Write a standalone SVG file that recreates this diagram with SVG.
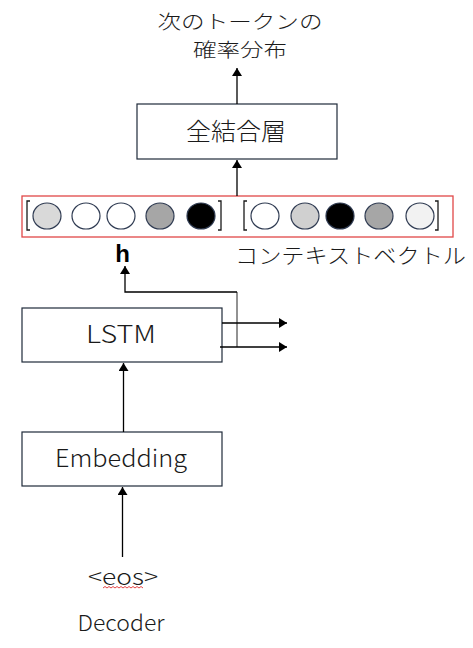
<svg xmlns="http://www.w3.org/2000/svg" width="473" height="648" viewBox="0 0 473 648">
<defs>
<marker id="ah" markerWidth="8" markerHeight="10" refX="8" refY="5" orient="auto" markerUnits="userSpaceOnUse">
<path d="M0,0 L8,5 L0,10 Z" fill="#000"/>
</marker>
<style>
.box{fill:#fff;stroke:#1f2a3a;stroke-width:1.2}
.t{font-family:"Noto Sans CJK JP","Noto Sans",sans-serif;fill:#1a1a1a;font-weight:300}
.c{stroke:#2f3b52;stroke-width:1.2}
.ln{fill:none;stroke:#000;stroke-width:1.3}
.br{fill:none;stroke:#1a1a1a;stroke-width:1.3}
</style>
</defs>
<rect width="473" height="648" fill="#fff"/>

<g id="output-label">
<text class="t" x="240" y="29" font-size="19" text-anchor="middle" textLength="165" lengthAdjust="spacingAndGlyphs">次のトークンの</text>
<text class="t" x="240" y="57" font-size="19" text-anchor="middle" textLength="94" lengthAdjust="spacingAndGlyphs">確率分布</text>
</g>

<g id="fc">
<rect class="box" x="137" y="104" width="200" height="55"/>
<text class="t" x="236" y="140" font-size="24" text-anchor="middle" textLength="100" lengthAdjust="spacingAndGlyphs">全結合層</text>
</g>

<g id="context-vector">
<rect x="22" y="196" width="431" height="41" fill="#fff" stroke="#e04848" stroke-width="1.3"/>
<path class="br" d="M30,201 H27 V230 H30"/>
<path class="br" d="M218,201 H221 V230 H218"/>
<path class="br" d="M247,201 H244 V230 H247"/>
<path class="br" d="M435,201 H438 V230 H435"/>
<ellipse class="c" cx="47" cy="216" rx="14" ry="13" fill="#d9d9d9"/>
<ellipse class="c" cx="86" cy="216" rx="14" ry="13" fill="#fff"/>
<ellipse class="c" cx="121" cy="216" rx="14" ry="13" fill="#fff"/>
<ellipse class="c" cx="160" cy="216" rx="14" ry="13" fill="#a6a6a6"/>
<ellipse class="c" cx="201" cy="216" rx="14" ry="13" fill="#000"/>
<ellipse class="c" cx="265" cy="216" rx="14" ry="13" fill="#fff"/>
<ellipse class="c" cx="305" cy="216" rx="14" ry="13" fill="#d0d0d0"/>
<ellipse class="c" cx="340" cy="216" rx="14" ry="13" fill="#000"/>
<ellipse class="c" cx="379" cy="216" rx="14" ry="13" fill="#a6a6a6"/>
<ellipse class="c" cx="420" cy="216" rx="14" ry="13" fill="#f2f2f2"/>
</g>

<g id="h-label">
<text x="122.5" y="262" font-size="24" font-weight="bold" text-anchor="middle" font-family="Liberation Sans, Arial, sans-serif" fill="#000">h</text>
</g>

<g id="context-label">
<text class="t" x="235" y="263" font-size="21" textLength="231" lengthAdjust="spacingAndGlyphs">コンテキストベクトル</text>
</g>

<g id="lstm">
<rect class="box" x="22" y="308" width="200" height="54"/>
<text class="t" x="121" y="343" font-size="25" text-anchor="middle" textLength="70" lengthAdjust="spacingAndGlyphs">LSTM</text>
</g>

<g id="embedding">
<rect class="box" x="22" y="432" width="200" height="54"/>
<text class="t" x="121" y="467" font-size="24" text-anchor="middle" textLength="132" lengthAdjust="spacingAndGlyphs">Embedding</text>
</g>

<g id="eos">
<text class="t" x="123" y="585" font-size="22" text-anchor="middle" textLength="70" lengthAdjust="spacingAndGlyphs">&lt;eos&gt;</text>
<path d="M103,588 l2,-1.5 l2,1.5 l2,-1.5 l2,1.5 l2,-1.5 l2,1.5 l2,-1.5 l2,1.5 l2,-1.5 l2,1.5 l2,-1.5 l2,1.5 l2,-1.5 l2,1.5 l2,-1.5 l2,1.5 l2,-1.5 l2,1.5 l2,-1.5 l2,1.5" fill="none" stroke="#e03030" stroke-width="0.9"/>
</g>

<g id="decoder-label">
<text class="t" x="121" y="631" font-size="22" text-anchor="middle" textLength="87" lengthAdjust="spacingAndGlyphs">Decoder</text>
</g>

<g id="connectors">
<line class="ln" x1="237" y1="104" x2="237" y2="68" marker-end="url(#ah)"/>
<line class="ln" x1="237" y1="196" x2="237" y2="160" marker-end="url(#ah)"/>
<line x1="237" y1="347" x2="237" y2="292" stroke="#777" stroke-width="1.6"/>
<polyline class="ln" points="237,292 125,292 125,266" marker-end="url(#ah)"/>
<line class="ln" x1="222" y1="323" x2="287" y2="323" marker-end="url(#ah)"/>
<line class="ln" x1="220" y1="347" x2="287" y2="347" marker-end="url(#ah)"/>
<line class="ln" x1="123.5" y1="432" x2="123.5" y2="363" marker-end="url(#ah)"/>
<line class="ln" x1="122.5" y1="557" x2="122.5" y2="487" marker-end="url(#ah)"/>
</g>
</svg>
